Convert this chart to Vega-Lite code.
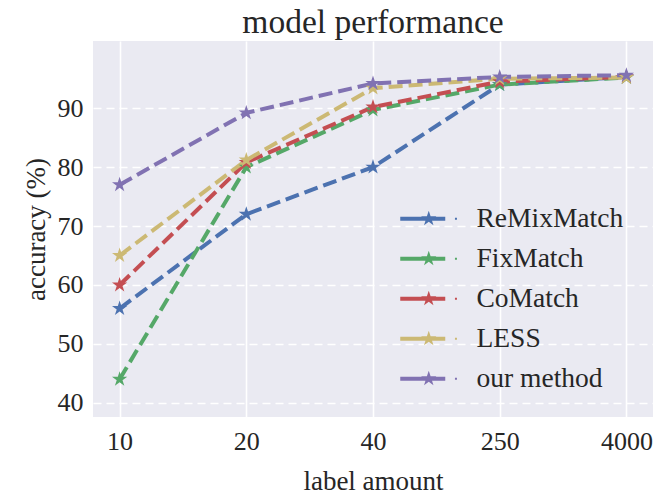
{
  "$schema": "https://vega.github.io/schema/vega-lite/v6.json",
  "width": 560,
  "height": 376,
  "autosize": {"type": "none"},
  "padding": {"left": 93, "top": 41, "right": 4, "bottom": 79},
  "background": "white",
  "title": {"text": "model performance", "fontSize": 33.5, "font": "Liberation Serif", "fontWeight": "normal", "color": "#262626", "offset": 1},
  "config": {
    "view": {"fill": "#EAEAF2", "stroke": null},
    "font": "Liberation Serif",
    "axis": {
      "domain": false, "ticks": false, "gridColor": "white", "gridOpacity": 1,
      "labelFont": "Liberation Serif", "labelFontSize": 26, "labelColor": "#262626",
      "titleFont": "Liberation Serif", "titleFontSize": 27, "titleFontWeight": "normal", "titleColor": "#262626"
    }
  },
  "data": {"values": [
    {"method": "ReMixMatch", "labels": "10", "accuracy": 56},
    {"method": "ReMixMatch", "labels": "20", "accuracy": 72},
    {"method": "ReMixMatch", "labels": "40", "accuracy": 80},
    {"method": "ReMixMatch", "labels": "250", "accuracy": 94},
    {"method": "ReMixMatch", "labels": "4000", "accuracy": 95.3},
    {"method": "FixMatch", "labels": "10", "accuracy": 44},
    {"method": "FixMatch", "labels": "20", "accuracy": 80},
    {"method": "FixMatch", "labels": "40", "accuracy": 89.7},
    {"method": "FixMatch", "labels": "250", "accuracy": 94},
    {"method": "FixMatch", "labels": "4000", "accuracy": 95.2},
    {"method": "CoMatch", "labels": "10", "accuracy": 60},
    {"method": "CoMatch", "labels": "20", "accuracy": 80.8},
    {"method": "CoMatch", "labels": "40", "accuracy": 90.2},
    {"method": "CoMatch", "labels": "250", "accuracy": 94.5},
    {"method": "CoMatch", "labels": "4000", "accuracy": 95.3},
    {"method": "LESS", "labels": "10", "accuracy": 65},
    {"method": "LESS", "labels": "20", "accuracy": 81.2},
    {"method": "LESS", "labels": "40", "accuracy": 93.4},
    {"method": "LESS", "labels": "250", "accuracy": 95},
    {"method": "LESS", "labels": "4000", "accuracy": 95.2},
    {"method": "our method", "labels": "10", "accuracy": 77},
    {"method": "our method", "labels": "20", "accuracy": 89.2},
    {"method": "our method", "labels": "40", "accuracy": 94.2},
    {"method": "our method", "labels": "250", "accuracy": 95.3},
    {"method": "our method", "labels": "4000", "accuracy": 95.6}
  ]},
  "encoding": {
    "x": {
      "field": "labels", "type": "ordinal", "sort": ["10", "20", "40", "250", "4000"],
      "scale": {"type": "point", "padding": 0.21},
      "axis": {"labelAngle": 0, "grid": true, "gridWidth": 1.6, "labelPadding": 11, "title": "label amount", "titlePadding": 14}
    },
    "y": {
      "field": "accuracy", "type": "quantitative",
      "scale": {"domain": [37.6, 101.4], "nice": false, "zero": false},
      "axis": {"values": [40, 50, 60, 70, 80, 90], "gridDash": [8, 5], "gridWidth": 1.6, "labelPadding": 10, "title": "accuracy (%)", "titlePadding": 7}
    },
    "color": {
      "field": "method", "type": "nominal",
      "scale": {"domain": ["ReMixMatch", "FixMatch", "CoMatch", "LESS", "our method"], "range": ["#4C72B0", "#55A868", "#C44E52", "#CCB974", "#8172B2"]},
      "legend": {
        "title": null, "orient": "none", "legendX": 322, "legendY": 164,
        "symbolType": "M-2.85,-0.2H1.65V0.2H-2.85Z M2.62,-0.1H2.82V0.1H2.62Z M0,-0.8L0.185,-0.254L0.761,-0.247L0.299,0.097L0.47,0.647L0,0.306L-0.47,0.647L-0.299,0.097L-0.761,-0.247L-0.185,-0.254Z",
        "symbolSize": 400, "symbolStrokeWidth": 0,
        "labelFont": "Liberation Serif", "labelFontSize": 27.5, "labelColor": "#262626", "labelOffset": 34, "rowPadding": 11,
        "encode": {"symbols": {"update": {"fill": {"scale": "color", "field": "value"}, "stroke": {"value": "transparent"}, "opacity": {"value": 1}}}}
      }
    }
  },
  "layer": [
    {"mark": {"type": "line", "strokeWidth": 4, "strokeDash": [14, 6]}},
    {"mark": {"type": "point", "shape": "M0,-1L0.2245,-0.309L0.951,-0.309L0.363,0.118L0.588,0.809L0,0.382L-0.588,0.809L-0.363,0.118L-0.951,-0.309L-0.2245,-0.309Z", "filled": true, "size": 256, "opacity": 1, "strokeWidth": 0}}
  ]
}
